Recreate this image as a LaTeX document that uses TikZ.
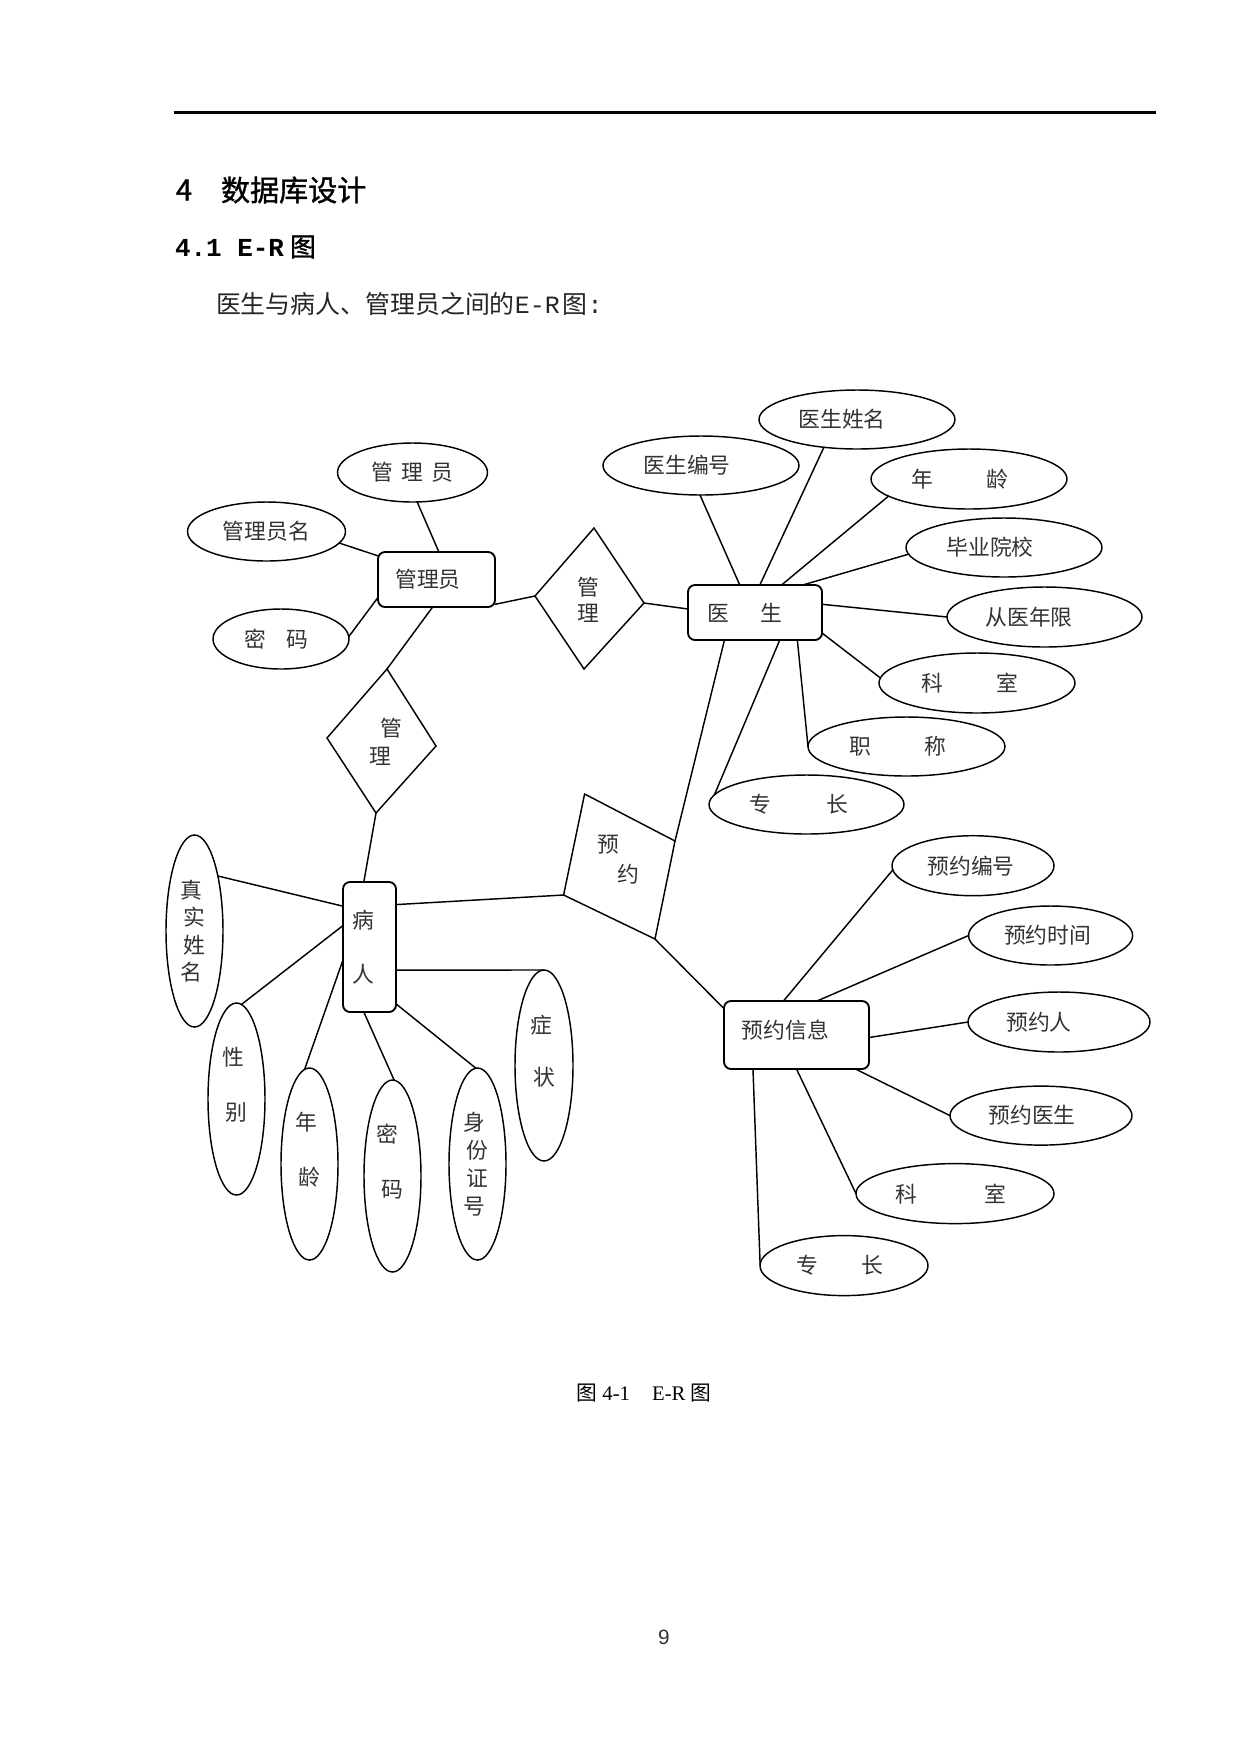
\documentclass[tikz,border=0pt]{standalone}
\usepackage{fontspec}
\setmainfont{Liberation Serif}
\newfontfamily\cjk{Noto Sans CJK SC}
\newfontfamily\cjkh[FakeBold=1.2]{Noto Sans CJK SC}
\newfontfamily\pgsans{Liberation Sans}
\newfontfamily\lmono{Liberation Mono}
\usetikzlibrary{shapes.geometric}
\newlength\pxu
\setlength\pxu{0.169333mm}
\newcommand\shl[1]{\hspace*{#1\pxu}}
\tikzset{
  every node/.style={inner sep=0pt, outer sep=0pt},
  ln/.style={line width=0.7pt, line cap=round},
  nfont/.style={font=\cjk\fontsize{10.5pt}{12.6pt}\selectfont, text=black!80},
  attr/.style={nfont, ellipse, draw, line width=0.7pt},
  ent/.style={nfont, rectangle, draw, rounded corners=7\pxu, line width=0.9pt},
  rel/.style={draw, line width=0.7pt, line join=miter},
}
\begin{document}
\begin{tikzpicture}[x=0.169333mm, y=-0.169333mm]
\useasboundingbox (0,0) rectangle (1241,1754);
\fill[white] (0,0) rectangle (1241,1754);
% page header
\coordinate (hl) at (174,112.7);
\coordinate (hr) at (1156,112.7);
\draw[line width=1.3pt] (hl) -- (hr);
\node[anchor=west, font=\cjkh\fontsize{14pt}{16pt}\selectfont] (h1n) at (176,190) {4};
\node[anchor=west, font=\cjkh\fontsize{14pt}{16pt}\selectfont] (h1t) at (221,190) {数据库设计};
\node[anchor=west, font=\cjkh\fontsize{12.5pt}{14pt}\selectfont] (h2) at (175,247) {{\lmono\bfseries 4.1 E-R}\hspace{6\pxu}图};
\node[anchor=west, font=\cjk\fontsize{12pt}{14pt}\selectfont, text=black!85] (intro) at (216,304.5) {医生与病人、管理员之间的{\lmono E-R}\hspace{3\pxu}图{\lmono :}};

% ---------- administrator ----------
\node[ent, minimum width=117\pxu, minimum height=55\pxu] (am) at (436.5,579.5) {管理员\shl{17}};
\node[attr, minimum width=150\pxu, minimum height=59\pxu] (am1) at (412.5,472.5) {管\shl{8.5}理\shl{8.5}员};
\node[attr, minimum width=158\pxu, minimum height=59\pxu] (am2) at (266.5,531.5) {管理员名};
\node[attr, minimum width=136\pxu, minimum height=60\pxu] (am3) at (281,639) {密\shl{21}码\shl{9}};

% relation 管理 (admin - doctor)
\coordinate (g1t) at (594,528); \coordinate (g1r) at (644,603);
\coordinate (g1b) at (584,669); \coordinate (g1l) at (535,596);
\draw[rel] (g1t) -- (g1r) -- (g1b) -- (g1l) -- cycle;
\node[nfont, align=center] (g1) at (588,600) {管\\理};

% relation 管理 (admin - patient)
\coordinate (g2t) at (387,669); \coordinate (g2r) at (436,746);
\coordinate (g2b) at (376,813); \coordinate (g2l) at (327,738);
\draw[rel] (g2t) -- (g2r) -- (g2b) -- (g2l) -- cycle;
\node[nfont, align=left] (g2) at (385.5,742) {\shl{11}管\\[1.75\pxu]理};

% relation 预约
\coordinate (y1) at (584.6,794); \coordinate (y2) at (675,841);
\coordinate (y3) at (655,939); \coordinate (y4) at (563.6,895);
\draw[rel] (y1) -- (y2) -- (y3) -- (y4) -- cycle;
\node[nfont, align=left] (yy) at (618.3,860) {预\\[3.75\pxu]\shl{20.6}约};

% ---------- doctor ----------
\node[ent, minimum width=134\pxu, minimum height=55\pxu] (ys) at (755,612.5) {医\shl{31.5}生\shl{20}};
\node[attr, minimum width=196\pxu, minimum height=59\pxu] (ys1) at (701,465.5) {医生编号\shl{28}};
\node[attr, minimum width=196\pxu, minimum height=59\pxu] (ys2) at (857,419.5) {医生姓名\shl{30}};
\node[attr, minimum width=196\pxu, minimum height=60\pxu] (ys3) at (969,479) {年\shl{54}龄\shl{18}};
\node[attr, minimum width=196\pxu, minimum height=59\pxu] (ys4) at (1004,547.5) {毕业院校\shl{28}};
\node[attr, minimum width=195\pxu, minimum height=60\pxu] (ys5) at (1044.5,617) {从医年限\shl{31}};
\node[attr, minimum width=196\pxu, minimum height=60\pxu] (ys6) at (977,683) {科\shl{54}室\shl{14}};
\node[attr, minimum width=197\pxu, minimum height=59\pxu] (ys7) at (906.5,746.5) {职\shl{54}称\shl{17}};
\node[attr, minimum width=195\pxu, minimum height=59\pxu] (ys8) at (806.5,804.5) {专\shl{55}长\shl{15}};

% ---------- patient ----------
\node[ent, align=center, minimum width=53\pxu, minimum height=130\pxu] (br) at (369.5,947) {病\shl{13}\\[28\pxu]人\shl{13}};
\node[attr, align=center, minimum width=57\pxu, minimum height=192\pxu] (br1) at (194.5,931) {真\shl7\\[1.4\pxu]实\shl7\\[1.4\pxu]姓\shl7\\[1.4\pxu]名\shl7};
\node[attr, align=center, minimum width=57\pxu, minimum height=192\pxu] (br2) at (236.5,1099) {性\shl7\\[28.75\pxu]别\shl7\\[5\pxu]\mbox{}};
\node[attr, align=center, minimum width=57\pxu, minimum height=192\pxu] (br3) at (309.5,1164) {年\shl7\\[28.75\pxu]龄\shl7\\[5\pxu]\mbox{}};
\node[attr, align=center, minimum width=57\pxu, minimum height=192\pxu] (br4) at (392.5,1176) {密\shl{10}\\[28.75\pxu]码\shl{10}\\[5\pxu]\mbox{}};
\node[attr, align=center, minimum width=57\pxu, minimum height=192\pxu] (br5) at (477.5,1164) {身\shl7\\[1.75\pxu]份\shl7\\[1.75\pxu]证\shl7\\[1.75\pxu]号\shl7};
\node[attr, align=center, minimum width=58\pxu, minimum height=191\pxu] (br6) at (544,1065.5) {症\shl6\\[25.75\pxu]状\shl6\\[5\pxu]\mbox{}};

% ---------- appointment info ----------
\node[ent, minimum width=145\pxu, minimum height=68\pxu, text height=8.5pt, text depth=5.3pt] (yx) at (796.5,1035) {预约信息\shl{22}};
\node[attr, minimum width=162\pxu, minimum height=60\pxu] (yx1) at (973,865.7) {预约编号\shl{4}};
\node[attr, minimum width=164\pxu, minimum height=59\pxu] (yx2) at (1050.6,935.5) {预约时间\shl{6}};
\node[attr, minimum width=182\pxu, minimum height=60\pxu] (yx3) at (1059,1022) {预约人\shl{40}};
\node[attr, minimum width=182\pxu, minimum height=59\pxu] (yx4) at (1041,1115.6) {预约医生\shl{18}};
\node[attr, minimum width=198\pxu, minimum height=60\pxu] (yx5) at (955,1193.6) {科\shl{66.5}室\shl{8}};
\node[attr, minimum width=168\pxu, minimum height=60\pxu] (yx6) at (844,1265.6) {专\shl{43.6}长\shl{8}};

% ---------- connectors ----------
\draw[ln] (am1.279) -- (am.85);
\draw[ln] (am2.351) -- (am.158);
\draw[ln] (am3.2) -- (am.197);
\draw[ln] (am.337) -- (g1l);
\draw[ln] (am.262) -- (g2t);
\draw[ln] (g2b) -- (br.95);
\draw[ln] (g1r) -- (ys.177);
\draw[ln] (ys1.268) -- (ys.119);
\draw[ln] (ys2.220) -- (ys.80);
\draw[ln] (ys3.192) -- (ys.46);
\draw[ln] (ys4.184) -- (ys.30);
\draw[ln] (ys5.180) -- (ys.7);
\draw[ln] (ys6.177) -- (ys.343);
\draw[ln] (ys7.180) -- (ys.327);
\draw[ln] (ys8.174) -- (ys.312);
\draw[ln] (ys.222) -- (y2);
\draw[ln] (br1.67) -- (br.123);
\draw[ln] (br2.87) -- (br.141);
\draw[ln] (br3.93) -- (br.206);
\draw[ln] (br4.89) -- (br.265);
\draw[ln] (br5.91) -- (br.295);
\draw[ln] (br.319) -- (br6.north);
\draw[ln] (br.58) -- (y4);
\draw[ln] (y3) -- (yx.160);
\draw[ln] (yx1.183) -- (yx.111);
\draw[ln] (yx2.180) -- (yx.59);
\draw[ln] (yx3.180) -- (yx.358);
\draw[ln] (yx4.180) -- (yx.330);
\draw[ln] (yx5.180) -- (yx.270);
\draw[ln] (yx6.179) -- (yx.218);

% caption and page number
\node[font=\fontsize{10pt}{12pt}\selectfont] (cap) at (644,1393) {{\cjk 图} 4-1\hspace{22\pxu}E-R {\cjk 图}};
\node[font=\pgsans\fontsize{10pt}{12pt}\selectfont, text=black!80] (pg) at (664,1637) {9};
\end{tikzpicture}
\end{document}
